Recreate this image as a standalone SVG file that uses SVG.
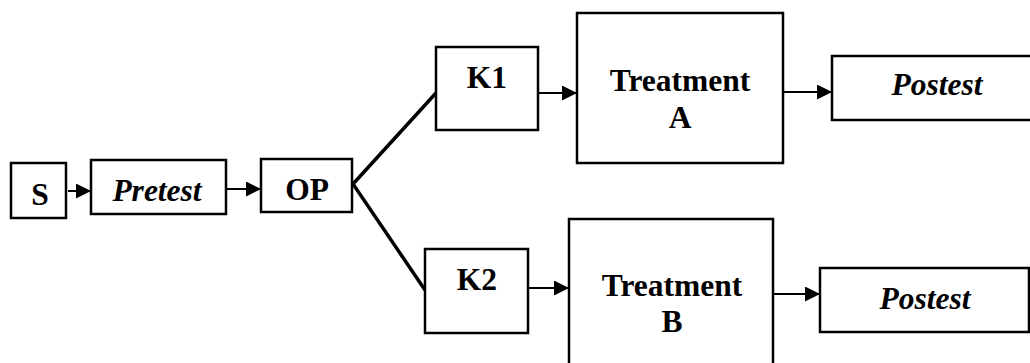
<svg xmlns="http://www.w3.org/2000/svg" width="1030" height="363" viewBox="0 0 1030 363">
<defs>
<style>
.box{fill:#fff;stroke:#000;stroke-width:2.5}
.t{font-family:"Liberation Serif","Times New Roman",serif;font-weight:bold;font-size:31.5px;text-anchor:middle;fill:#000}
.i{font-style:italic}
.c{stroke:#000;stroke-width:2;fill:none}
.b{stroke:#000;stroke-width:3.5;fill:none}
</style>
<marker id="ah" viewBox="0 0 10 10" refX="10" refY="5" markerWidth="15" markerHeight="15" markerUnits="userSpaceOnUse" orient="auto">
<path d="M0,0 L10,5 L0,10 z" fill="#000"/>
</marker>
</defs>
<g id="connectors">
<line class="c" x1="68" y1="191" x2="91" y2="191" marker-end="url(#ah)"/>
<line class="c" x1="226" y1="189" x2="261" y2="189" marker-end="url(#ah)"/>
<polyline class="b" points="436,93 353,184 425,290"/>
<line class="c" x1="538" y1="93" x2="577" y2="93" marker-end="url(#ah)"/>
<line class="c" x1="783" y1="92" x2="832" y2="92" marker-end="url(#ah)"/>
<line class="c" x1="528" y1="288" x2="569" y2="288" marker-end="url(#ah)"/>
<line class="c" x1="771" y1="294" x2="820" y2="294" marker-end="url(#ah)"/>
</g>
<g id="S"><rect class="box" x="11" y="163" width="55" height="55"/><text class="t" x="40" y="205">S</text></g>
<g id="Pretest"><rect class="box" x="91" y="160" width="135" height="54"/><text class="t i" x="157" y="201">Pretest</text></g>
<g id="OP"><rect class="box" x="261" y="159" width="91" height="53"/><text class="t" x="307" y="200">OP</text></g>
<g id="K1"><rect class="box" x="436" y="47" width="102" height="83"/><text class="t" x="487" y="88">K1</text></g>
<g id="TreatmentA"><rect class="box" x="577" y="13" width="206" height="150"/><text class="t" x="680" y="91">Treatment</text><text class="t" x="680" y="128">A</text></g>
<g id="PostestA"><rect class="box" x="832" y="56" width="210" height="64"/><text class="t i" x="937" y="95">Postest</text></g>
<g id="K2"><rect class="box" x="425" y="249" width="103" height="84"/><text class="t" x="477" y="290">K2</text></g>
<g id="TreatmentB"><rect class="box" x="569" y="219" width="204" height="160"/><text class="t" x="672" y="296">Treatment</text><text class="t" x="672" y="332">B</text></g>
<g id="PostestB"><rect class="box" x="820" y="268" width="209" height="64"/><text class="t i" x="925" y="309">Postest</text></g>
</svg>
